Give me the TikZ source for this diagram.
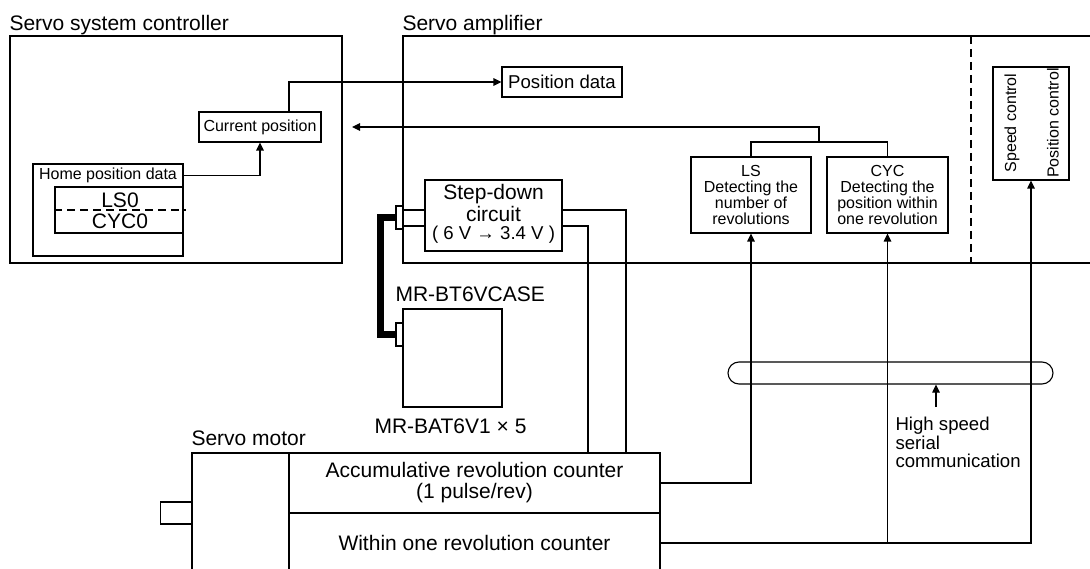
\documentclass[tikz,border=0pt]{standalone}
\usepackage{fontspec}
\setmainfont{Liberation Sans}
\usetikzlibrary{arrows.meta}
\tikzset{
  blk/.style={draw, inner sep=0pt, align=center},
  arr/.style={-{Triangle[length=8pt,width=7.5pt]}},
  fa/.style={font=\fontsize{16}{16}\selectfont},
  fb/.style={font=\fontsize{18.6}{18.5}\selectfont},
  fc/.style={font=\fontsize{21}{21}\selectfont},
  lbl/.style={inner sep=0pt},
  dsh/.style={dash pattern=on 8pt off 5pt},
  cable/.style={line width=7pt},
}
\begin{document}
\begin{tikzpicture}[x=1pt,y=-1pt,line width=1.1pt]
\useasboundingbox (0,0) rectangle (1090,569);
% titles
\node[fc,lbl,anchor=base west] (t1) at (9,31) {Servo system controller};
\node[fc,lbl,anchor=base west] (t2) at (402,31) {Servo amplifier};
\node[fc,lbl,anchor=base west] (t3) at (191,445) {Servo motor};
% controller
\node[blk,minimum width=332pt,minimum height=227pt] (ctrl) at (176,149.5) {};
\node[blk,fa,minimum width=122pt,minimum height=30pt] (cur) at (260,127) {Current position};
\node[blk,minimum width=150pt,minimum height=92pt] (home) at (108,210) {};
\node[fa,lbl] (homet) at (108,175.5) {Home position data};
\node[blk,minimum width=128pt,minimum height=46pt] (orig) at (119,210) {};
\node[fc,lbl] (ls0) at (120,200) {LS0};
\node[fc,lbl] (cyc0) at (120,221.5) {CYC0};
\draw[dsh] (orig.west) -- ([xshift=2pt]orig.east);
% amplifier
\draw (1090,36) -- (403,36) -- (403,263) -- (1090,263);
\draw[dsh] (971,36) -- (971,263);
\node[blk,fb,minimum width=120pt,minimum height=30pt] (posd) at (562,82) {Position data};
\node[blk,fa,minimum width=120pt,minimum height=76pt] (ls) at (751,195) {LS\\Detecting the\\number of\\revolutions};
\node[blk,fa,minimum width=121pt,minimum height=76pt] (cyc) at (887.5,195) {CYC\\Detecting the\\position within\\one revolution};
\node[blk,minimum width=76pt,minimum height=113pt] (ctl) at (1031,123.5) {};
\node[fa,lbl,rotate=90] (spd) at (1012,123) {Speed control};
\node[fa,lbl,rotate=90] (psc) at (1053,123) {Position control};
\node[blk,minimum width=137pt,minimum height=71pt] (sd) at (493.5,215.5) {};
\node[fc,lbl,anchor=base] (sd1) at (493.5,200) {Step-down};
\node[fc,lbl,anchor=base] (sd2) at (493.5,222) {circuit};
\node[fb,lbl,anchor=base] (sd3) at (493.5,240) {( 6 V → 3.4 V )};
% battery
\draw[cable] (399.5,217.5) -| (380,280) |- (399.5,334.5);
\node[blk,fill=white,minimum width=7pt,minimum height=23pt] (c1) at (399.5,217.5) {};
\node[blk,fill=white,minimum width=7pt,minimum height=23pt] (c2) at (399.5,334.5) {};
\node[blk,minimum width=99pt,minimum height=98pt] (bat) at (452.5,358) {};
\draw (c1.east |- 0,210) -- (sd.west |- 0,210);
\draw (c1.east |- 0,226) -- (sd.west |- 0,226);
\node[fc,lbl,anchor=base west] (lb1) at (395,302) {MR-BT6VCASE};
\node[fc,lbl,anchor=base west] (lb2) at (374,433) {MR-BAT6V1 × 5};
% motor
\node[blk,minimum width=97pt,minimum height=122pt] (motor) at (240.5,514) {};
\node[blk,minimum width=31.5pt,minimum height=22pt] (shaft) at (176.25,513) {};
\node[blk,fc,minimum width=371pt,minimum height=60pt] (enc1) at (474.5,483) {Accumulative revolution counter\\(1 pulse/rev)};
\node[blk,fc,minimum width=371pt,minimum height=60pt] (enc2) at (474.5,543) {Within one revolution counter};
% bus
\node[draw,rounded corners=11pt,minimum width=325pt,minimum height=22pt,inner sep=0pt] (bus) at (890.5,373) {};
% connectors
\coordinate (grp) at (819,142);
\coordinate (back) at (352,127);
\coordinate (hsa) at (936,407);
\draw[arr] (home.east |- homet) -| (cur.south);
\draw[arr] ([xshift=29pt]cur.north) |- (posd.west);
\draw (ls.north) |- (grp) -| (cyc.north);
\draw[arr] (grp) |- (back);
\draw (sd.east |- 0,210) -| (enc1.north -| 626,0);
\draw (sd.east |- 0,226) -| (enc1.north -| 588,0);
\draw[arr] (enc1.east) -| (ls.south);
\draw[arr] (enc2.east) -| (cyc.south);
\draw[arr] (enc2.east) -| (ctl.south);
\draw[arr] (hsa) -- (bus.south -| hsa);
\node[fb,lbl,align=left,anchor=north west] (hs) at (895,416.5) {High speed\\serial\\communication};
\end{tikzpicture}
\end{document}
